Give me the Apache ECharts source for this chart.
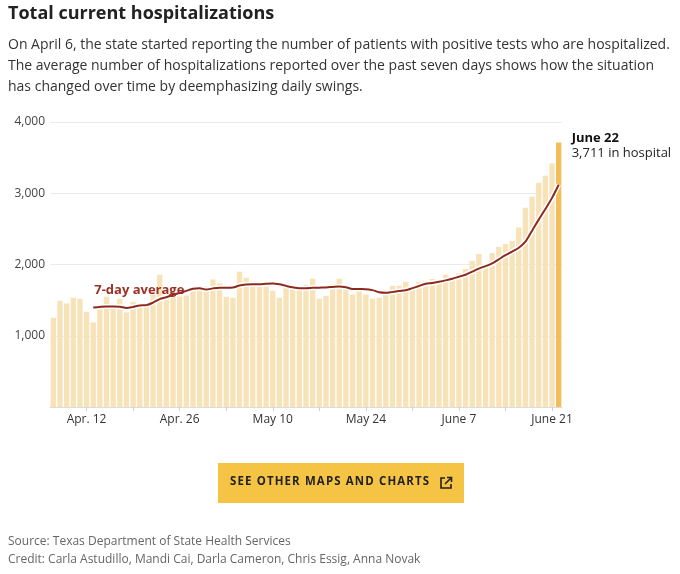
<!DOCTYPE html>
<html><head><meta charset="utf-8">
<script src="https://cdn.jsdelivr.net/npm/echarts@6/dist/echarts.min.js"></script>
<style>html,body{margin:0;padding:0;background:#fff}#c{width:680px;height:574px}</style>
</head><body><div id="c"></div>
<script>
// Categories: Apr 7 – June 22
const months = [['Apr. ', 7, 30], ['May ', 1, 31], ['June ', 1, 22]];
const dates = [];
months.forEach(([m, a, b]) => { for (let d = a; d <= b; d++) dates.push(m + d); });

const tickLabels = ['Apr. 12', 'Apr. 26', 'May 10', 'May 24', 'June 7', 'June 21'];
const tickMarks = ['Apr. 12', 'Apr. 19', 'Apr. 26', 'May 3', 'May 10', 'May 17', 'May 24', 'May 31', 'June 7', 'June 14', 'June 21'];

const hospitalized = [
  1252, 1491, 1453, 1533, 1519, 1336, 1187, 1390, 1547, 1440,
  1519, 1327, 1477, 1425, 1425, 1579, 1855, 1540, 1557, 1550,
  1565, 1660, 1695, 1690, 1790, 1735, 1547, 1533, 1897, 1813,
  1757, 1692, 1692, 1631, 1533, 1692, 1664, 1650, 1715, 1799,
  1519, 1561, 1729, 1799, 1664, 1579, 1673, 1579, 1519, 1533,
  1645, 1701, 1701, 1757, 1687, 1756, 1770, 1798, 1787, 1857,
  1829, 1876, 1937, 2049, 2148, 2007, 2162, 2246, 2288, 2331,
  2518, 2795, 2950, 3147, 3245, 3419, 3711
];

const avg7 = [
  null, null, null, null, null, null, 1397, 1405, 1410, 1410,
  1407, 1390, 1405, 1425, 1430, 1465, 1515, 1540, 1575, 1600,
  1630, 1660, 1668, 1648, 1665, 1675, 1672, 1676, 1705, 1718,
  1724, 1724, 1730, 1733, 1722, 1700, 1680, 1668, 1668, 1672,
  1675, 1678, 1685, 1692, 1680, 1656, 1655, 1654, 1640, 1610,
  1603, 1615, 1628, 1640, 1668, 1698, 1730, 1740, 1757, 1777,
  1800, 1828, 1856, 1900, 1943, 1977, 2015, 2073, 2131, 2182,
  2236, 2322, 2475, 2630, 2778, 2935, 3120
];

const yTicks = [0, 1000, 2000, 3000, 4000];

const FONT = '"Open Sans", sans-serif';
const lastIdx = hospitalized.length - 1;

const chart = echarts.init(document.getElementById('c'), null, { renderer: 'canvas' });

const option = {
  animation: false,
  textStyle: { fontFamily: FONT },
  grid: { left: 50, right: 118, top: 122, bottom: 167, containLabel: false },
  xAxis: {
    type: 'category',
    data: dates,
    axisLine: { show: true, lineStyle: { color: '#dcdcdc', width: 1 } },
    axisTick: {
      show: true, alignWithLabel: true, length: 4,
      interval: (i, v) => tickMarks.includes(v),
      lineStyle: { color: '#cfcfcf' }
    },
    axisLabel: {
      interval: (i, v) => tickLabels.includes(v),
      color: '#333', fontSize: 12, margin: 7, fontFamily: FONT
    }
  },
  yAxis: {
    type: 'value',
    min: yTicks[0], max: yTicks[yTicks.length - 1], interval: 1000,
    axisLine: { show: false }, axisTick: { show: false },
    splitLine: { lineStyle: { color: '#ebebeb', width: 1 } },
    axisLabel: {
      color: '#444', fontSize: 12, margin: 5, fontFamily: FONT,
      formatter: v => v === 0 ? '' : v.toLocaleString('en-US')
    }
  },
  series: [
    {
      type: 'bar',
      data: hospitalized.map((v, i) => ({
        value: v,
        itemStyle: { color: i === lastIdx ? '#f4bd5a' : '#f8e2b8' }
      })),
      barCategoryGap: '20%',
      z: 1
    },
    {
      type: 'line',
      data: avg7,
      smooth: 0.3,
      symbol: 'none',
      lineStyle: { color: '#ffffff', width: 5 },
      z: 2,
      silent: true
    },
    {
      type: 'line',
      data: avg7,
      smooth: 0.3,
      symbol: 'none',
      lineStyle: { color: '#8c2a20', width: 2 },
      z: 3
    }
  ]
};
chart.setOption(option);

// Annotations tied to data positions
const firstAvgIdx = avg7.findIndex(v => v !== null);
const pAvg = chart.convertToPixel({ seriesIndex: 2 }, [dates[firstAvgIdx], avg7[firstAvgIdx]]);
const pLast = chart.convertToPixel({ seriesIndex: 0 }, [dates[lastIdx], hospitalized[lastIdx]]);

// widen letter spacing
const spaced = s => s.split('').join('\u200A');

chart.setOption({
  graphic: [
    { type: 'text', left: 8, top: 5, style: { text: 'Total current hospitalizations', font: 'bold 18px ' + FONT, fill: '#222' } },
    { type: 'text', left: 8, top: 38, style: { text: 'On April 6, the state started reporting the number of patients with positive tests who are hospitalized.', font: '14px ' + FONT, fill: '#333' } },
    { type: 'text', left: 8, top: 59, style: { text: 'The average number of hospitalizations reported over the past seven days shows how the situation', font: '14px ' + FONT, fill: '#333' } },
    { type: 'text', left: 8, top: 80, style: { text: 'has changed over time by deemphasizing daily swings.', font: '14px ' + FONT, fill: '#333' } },

    { type: 'text', x: pAvg[0] + 1, y: pAvg[1] - 24, style: { text: '7-day average', font: 'bold 13px ' + FONT, fill: '#9b3124' }, z: 10 },

    { type: 'text', x: pLast[0] + 13, y: pLast[1] - 11, style: { text: 'June 22', font: 'bold 13px ' + FONT, fill: '#111' }, z: 10 },
    { type: 'text', x: pLast[0] + 13, y: pLast[1] + 4, style: { text: hospitalized[lastIdx].toLocaleString('en-US') + ' in hospital', font: '13px ' + FONT, fill: '#222' }, z: 10 },

    { type: 'rect', shape: { x: 218, y: 463, width: 246, height: 40 }, style: { fill: '#f6c445' } },
    { type: 'text', x: 230, y: 475, scaleX: 0.915, originX: 0, style: { text: spaced('SEE OTHER MAPS AND CHARTS'), font: 'bold 12.5px ' + FONT, fill: '#222' } },
    { type: 'polyline', shape: { points: [[445, 478], [441, 478], [441, 488], [451, 488], [451, 484]] }, style: { stroke: '#222', lineWidth: 1.6, fill: null } },
    { type: 'polyline', shape: { points: [[445, 484], [451, 478]] }, style: { stroke: '#222', lineWidth: 1.6, fill: null } },
    { type: 'polyline', shape: { points: [[447, 477.5], [451.5, 477.5], [451.5, 482]] }, style: { stroke: '#222', lineWidth: 1.6, fill: null } },

    { type: 'text', left: 8, top: 536, style: { text: 'Source: Texas Department of State Health Services', font: '12px ' + FONT, fill: '#666' } },
    { type: 'text', left: 8, top: 554, style: { text: 'Credit: Carla Astudillo, Mandi Cai, Darla Cameron, Chris Essig, Anna Novak', font: '12px ' + FONT, fill: '#666' } }
  ]
});
</script>
</body></html>
